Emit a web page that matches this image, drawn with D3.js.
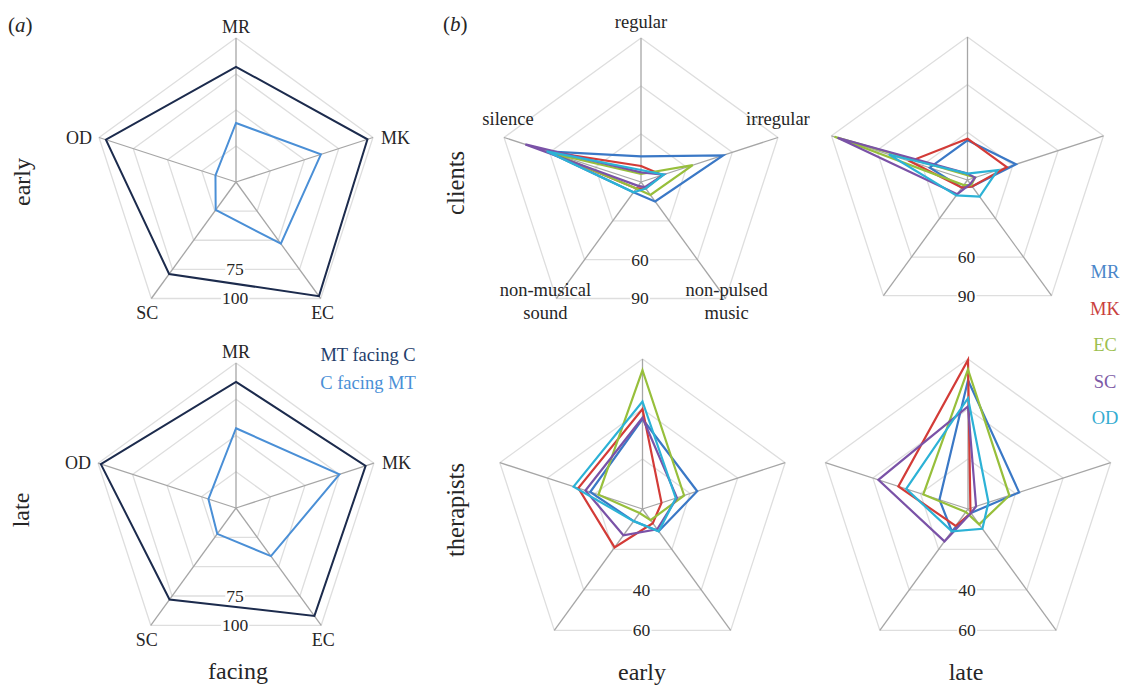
<!DOCTYPE html>
<html><head><meta charset="utf-8">
<script src="https://cdn.jsdelivr.net/npm/d3@7"></script>
<style>
body{margin:0;background:#fff}
svg text{font-family:"Liberation Serif","DejaVu Serif","Times New Roman",serif;fill:#262626}
</style>
</head><body>
<svg id="c" width="1121" height="686" font-family="Liberation Serif, DejaVu Serif, serif"></svg>
<script>
// ---------- DATA ----------
// panel (a): facing
const facingAxes = ["MR", "MK", "EC", "SC", "OD"];
const facingSeries = ["MT facing C", "C facing MT"];
const facingEarlyMTC = [80, 96, 98, 79, 95];
const facingEarlyCMT = [41, 62, 53, 24, 15];
const facingLateMTC = [87, 94, 92, 78, 98];
const facingLateCMT = [55, 75, 41, 22, 20];
const facingRings = [25, 50, 75, 100];
const facingTickLabels = [75, 100];

// panel (b): sound categories, one row per person (MR, MK, EC, SC, OD)
const soundAxes = ["regular", "irregular", "non-pulsed music", "non-musical sound", "silence"];
const people = ["MR", "MK", "EC", "SC", "OD"];
const clientsEarly = [
  [16, 54, 15, 8, 62],
  [10, 14, 5, 5, 62],
  [5, 34, 10, 5, 58],
  [6, 15, 4, 3, 76],
  [7.5, 15, 5, 8, 62]
];
const clientsLate = [
  [25, 32, 5, 6, 25],
  [26, 26, 5, 6, 38],
  [3, 5, 4, 4, 88],
  [4, 5, 3, 11, 86],
  [4, 20, 13, 12, 52]
];
const therapistsEarly = [
  [36, 23, 11, 6, 22],
  [40, 8, 7, 19, 27],
  [55.5, 17.5, 5.5, 2, 18.5],
  [36.5, 14.5, 10, 13, 24],
  [43, 14, 11, 6, 29]
];
const therapistsLate = [
  [51.5, 21.5, 2, 11, 12],
  [59.6, 1, 2, 8.4, 29.3],
  [55.8, 17.4, 7.6, 1.5, 18.8],
  [41, 3.4, 2, 16, 37.7],
  [44.3, 8.6, 9.8, 11, 26]
];
const clientRings = [30, 60, 90];
const clientTickLabels = [60, 90];
const therapistRings = [20, 40, 60];
const therapistTickLabels = [40, 60];

// ---------- STYLE ----------
const FONT = "'Liberation Serif', 'DejaVu Serif', serif";
const facingColors = ["#1c2b4d", "#4a8fd6"];
const facingLegendColors = ["#243d6b", "#4a8fd6"];
const peopleColors = ["#3a78c6", "#d33b37", "#97bf3b", "#7a52a7", "#2cb2d6"];
const legendColors = ["#4a86c9", "#c9403d", "#9dbf4f", "#7c5aa6", "#35acd1"];

const svg = d3.select("#c");
const N = 5;
const ang = i => i * 2 * Math.PI / N;

function radar(cfg) {
  const {cx, cy, R, max, rings, ticks, series, colors, lw} = cfg;
  const r = d3.scaleLinear().domain([0, max]).range([0, R]);
  const G = svg.append("g").attr("transform", `translate(${cx},${cy})`);
  const line = d3.lineRadial()
    .angle((d, i) => ang(i))
    .radius(d => r(d))
    .curve(d3.curveLinearClosed);
  rings.forEach(v => {
    G.append("path").attr("d", line(d3.range(N).map(() => v)))
      .attr("fill", "none").attr("stroke", "#dedede").attr("stroke-width", 1.3);
  });
  d3.range(N).forEach(i => {
    const [x, y] = d3.pointRadial(ang(i), R);
    G.append("line").attr("x1", 0).attr("y1", 0).attr("x2", x).attr("y2", y)
      .attr("stroke", "#a6a6a6").attr("stroke-width", 1.3);
  });
  ticks.forEach(v => {
    const y = r(v) * Math.cos(Math.PI / 5);
    const t = G.append("text").attr("x", -1).attr("y", y)
      .attr("text-anchor", "middle").attr("dominant-baseline", "central")
      .style("font-family", FONT).style("fill", "#262626")
      .style("font-size", "17.5px").text(v);
    const b = t.node().getBBox();
    G.insert("rect", "text:last-of-type")
      .attr("x", b.x - 1).attr("y", y - 4).attr("width", b.width + 2).attr("height", 8)
      .attr("fill", "#fff");
  });
  series.forEach((vals, k) => {
    G.append("path").attr("d", line(vals))
      .attr("fill", "none").attr("stroke", colors[k])
      .attr("stroke-width", lw).attr("stroke-linejoin", "miter");
  });
  return {G, r, vertex: i => d3.pointRadial(ang(i), R)};
}

function label(x, y, txt, opts = {}) {
  const t = svg.append("text").attr("x", x).attr("y", y)
    .attr("text-anchor", opts.anchor || "middle")
    .attr("dominant-baseline", "central")
    .style("font-family", FONT)
    .style("fill", opts.fill || "#262626")
    .style("font-size", (opts.size || 18) + "px")
    .text(txt);
  if (opts.rotate) t.attr("transform", `rotate(-90,${x},${y})`);
  return t;
}

// ---------- PANEL (a) ----------
const facingOffsets = [
  {dx: 0, dy: -11, anchor: "middle"},
  {dx: 8, dy: 0, anchor: "start"},
  {dx: 2, dy: 15, anchor: "middle"},
  {dx: -4, dy: 15, anchor: "middle"},
  {dx: -7, dy: 0, anchor: "end"}
];
[
  {cy: 182, R: 144, data: [facingEarlyMTC, facingEarlyCMT]},
  {cy: 508, R: 145, data: [facingLateMTC, facingLateCMT]}
].forEach(p => {
  const cx = 236;
  const rd = radar({cx, cy: p.cy, R: p.R, max: 100, rings: facingRings, ticks: facingTickLabels,
    series: p.data, colors: facingColors, lw: 2});
  facingAxes.forEach((a, i) => {
    const [vx, vy] = rd.vertex(i);
    const o = facingOffsets[i];
    label(cx + vx + o.dx, p.cy + vy + o.dy, a, {anchor: o.anchor, size: 18});
  });
});
label(368, 355, facingSeries[0], {fill: facingLegendColors[0], size: 18.5});
label(368, 383, facingSeries[1], {fill: facingLegendColors[1], size: 18.5});
label(22, 182, "early", {rotate: true, size: 24});
label(21, 510, "late", {rotate: true, size: 24});
label(238, 671, "facing", {size: 24});

function panelTag(x, y, letter) {
  const t = svg.append("text").attr("x", x).attr("y", y).attr("dominant-baseline", "central")
    .style("font-family", FONT).style("fill", "#262626").style("font-size", "21px");
  t.append("tspan").text("(");
  t.append("tspan").style("font-style", "italic").text(letter);
  t.append("tspan").text(")");
}
panelTag(8, 25, "a");

// ---------- PANEL (b) ----------
const ce = radar({cx: 641, cy: 182, R: 144, max: 90, rings: clientRings, ticks: clientTickLabels,
  series: clientsEarly, colors: peopleColors, lw: 2.2});
radar({cx: 967.5, cy: 180, R: 143, max: 90, rings: clientRings, ticks: clientTickLabels,
  series: clientsLate, colors: peopleColors, lw: 2.2});
radar({cx: 642.5, cy: 509, R: 150, max: 60, rings: therapistRings, ticks: therapistTickLabels,
  series: therapistsEarly, colors: peopleColors, lw: 2.2});
radar({cx: 968, cy: 509, R: 150, max: 60, rings: therapistRings, ticks: therapistTickLabels,
  series: therapistsLate, colors: peopleColors, lw: 2.2});

const soundOffsets = [
  {dx: 0, dy: -16},
  {dx: 0, dy: -19},
  {dx: 1, dy: -8},
  {dx: -11, dy: -8},
  {dx: 4, dy: -19}
];
soundAxes.forEach((a, i) => {
  const [vx, vy] = ce.vertex(i);
  const o = soundOffsets[i];
  const x = 641 + vx + o.dx, y = 182 + vy + o.dy;
  const parts = (i === 2) ? ["non-pulsed", "music"] : (i === 3) ? ["non-musical", "sound"] : [a];
  parts.forEach((p, j) => label(x, y + j * 23, p, {size: 18.5}));
});

people.forEach((p, k) => label(1105, 272 + k * 36.5, p, {fill: legendColors[k], size: 18.5}));
label(455, 183, "clients", {rotate: true, size: 24.5});
label(455, 510, "therapists", {rotate: true, size: 24.5});
label(642, 672, "early", {size: 24});
label(966, 672, "late", {size: 24});
panelTag(443, 24, "b");
</script>
</body></html>
